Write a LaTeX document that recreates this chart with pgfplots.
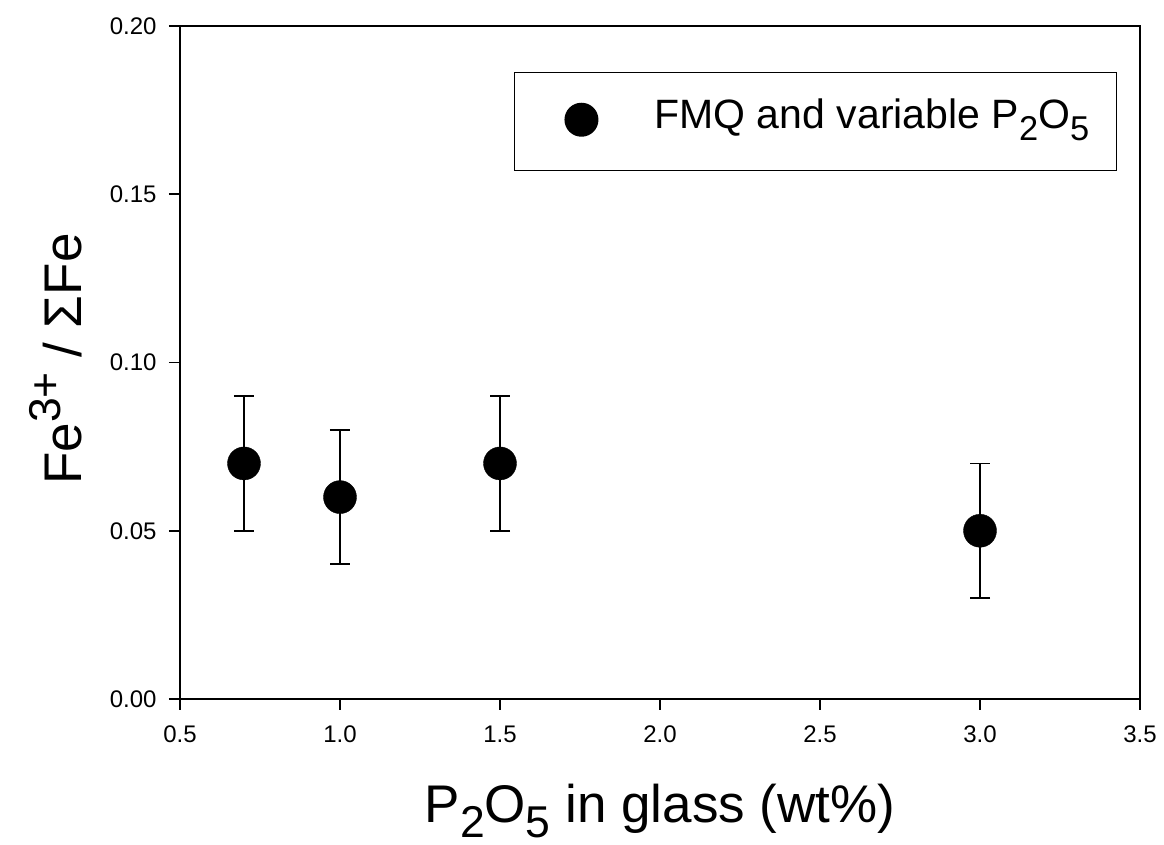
\documentclass[border=0pt]{standalone}
\usepackage{fontspec}
\setmainfont{Liberation Sans}
\usepackage{pgfplots}
\pgfplotsset{compat=1.18}
\newcommand{\mysub}[1]{\raisebox{-0.28em}{\scalebox{0.84}{#1}}}
\newcommand{\mysup}[1]{\raisebox{0.38em}{\scalebox{0.84}{#1}}}
\begin{document}
\begin{tikzpicture}
\begin{axis}[
  scale only axis,
  width=960pt, height=673pt,
  xmin=0.5, xmax=3.5, ymin=0, ymax=0.2,
  xtick={0.5,1.0,1.5,2.0,2.5,3.0,3.5},
  ytick={0,0.05,0.1,0.15,0.2},
  /pgf/number format/assume math mode=true,
  xticklabel style={font=\fontsize{24}{24}\selectfont, /pgf/number format/fixed, /pgf/number format/fixed zerofill, /pgf/number format/precision=1, yshift=-12pt},
  yticklabel style={font=\fontsize{24}{24}\selectfont, /pgf/number format/fixed, /pgf/number format/fixed zerofill, /pgf/number format/precision=2, xshift=-9pt},
  tick align=outside, tick pos=left,
  major tick length=11pt,
  axis line style={line width=1.8pt},
  every tick/.style={line width=1.6pt, black},
  xlabel={P\mysub{2}O\mysub{5} in glass (wt\%)},
  ylabel={Fe\mysup{3+} / ΣFe},
  label style={font=\fontsize{53}{53}\selectfont},
  xlabel style={at={(axis description cs:0.5,-0.1842)}, anchor=base},
  ylabel style={at={(axis description cs:-0.1031,0.505)}, anchor=base},
  legend style={at={(rel axis cs:0.976,0.9316)}, anchor=north east,
    draw=black, line width=1.4pt, inner sep=0pt,
    font=\fontsize{41}{41}\selectfont,
    nodes={inner sep=0pt, text depth=0pt, draw=none}, cells={anchor=base west}},
  legend image code/.code={
    \path[draw=none, fill=none] (0pt,-42pt) rectangle (140pt,56pt);
    \fill[black, draw=none] (67pt,9pt) circle (17pt);
  },
]
\addplot[only marks, mark=*, mark size=16.5pt, black,
  error bars/.cd, y dir=both, y explicit,
  error bar style={line width=1.8pt, black},
  error mark options={rotate=90, mark size=10pt, line width=1.8pt, black}]
  table[x=x, y=y, y error=e] {
  x    y     e
  0.7  0.07  0.02
  1.0  0.06  0.02
  1.5  0.07  0.02
  3.0  0.05  0.02
};
\addlegendentry{FMQ and variable P\mysub{2}O\mysub{5}\hspace*{27pt}}
\end{axis}
\path (-180pt,-146pt) rectangle (984pt,699pt);
\end{tikzpicture}
\end{document}
